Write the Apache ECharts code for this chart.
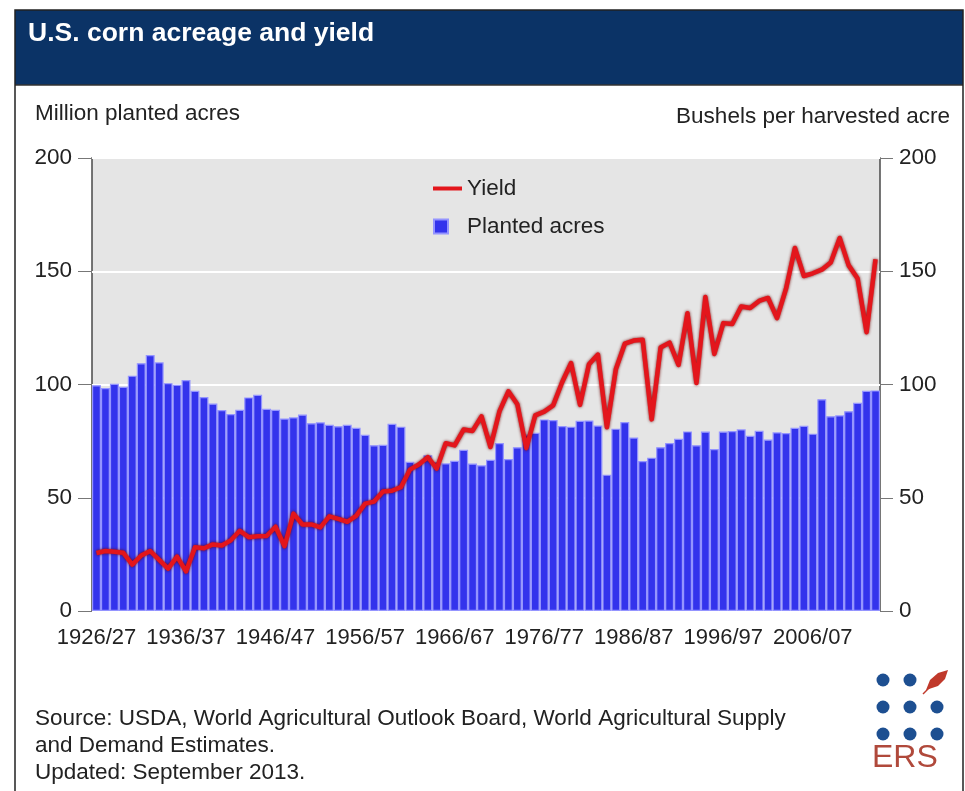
<!DOCTYPE html>
<html>
<head>
<meta charset="utf-8">
<script src="https://cdn.jsdelivr.net/npm/echarts@6/dist/echarts.min.js"></script>
<style>
  html, body { margin: 0; padding: 0; background: #fff; }
  #chart { width: 965px; height: 791px; }
</style>
</head>
<body>
<div id="chart"></div>
<script>
  // crop years 1926/27 .. 2013/14
  var firstYear = 1926;
  var lastYear = 2013;
  var seasons = [];
  for (var y = firstYear; y <= lastYear; y++) {
      seasons.push(y + '/' + String((y + 1) % 100).padStart(2, '0'));
  }

  // million planted acres
  var plantedAcres = [
      99.7, 98.4, 100.3, 99.0, 103.9, 109.4, 113.0, 109.8, 100.6, 99.9,
      102.0, 97.2, 94.5, 91.6, 88.7, 87.0, 88.8, 94.3, 95.5, 89.3,
      88.8, 85.0, 85.5, 86.7, 82.9, 83.3, 82.2, 81.6, 82.2, 80.9,
      77.8, 73.2, 73.4, 82.7, 81.4, 65.9, 65.0, 68.8, 65.8, 65.2,
      66.3, 71.2, 65.1, 64.3, 66.8, 74.2, 67.1, 72.3, 77.9, 78.7,
      84.6, 84.3, 81.7, 81.4, 84.0, 84.1, 81.9, 60.2, 80.5, 83.4,
      76.6, 66.2, 67.7, 72.3, 74.2, 76.0, 79.3, 73.2, 79.2, 71.5,
      79.2, 79.5, 80.2, 77.4, 79.6, 75.7, 78.9, 78.6, 80.9, 81.8,
      78.3, 93.5, 86.0, 86.4, 88.2, 91.9, 97.2, 97.4
  ];

  // bushels per harvested acre
  var yieldPerAcre = [
      25.6, 26.5, 26.2, 25.7, 20.5, 24.5, 26.5, 22.6, 18.7, 24.0,
      17.5, 28.1, 27.7, 29.4, 28.9, 31.2, 35.4, 32.6, 33.0, 33.1,
      37.2, 28.6, 43.0, 38.2, 38.2, 36.9, 41.8, 40.7, 39.4, 42.0,
      47.4, 48.3, 52.8, 53.1, 54.7, 62.4, 64.7, 67.9, 62.9, 74.1,
      73.1, 80.1, 79.5, 85.9, 72.4, 88.1, 97.0, 91.3, 71.9, 86.4,
      88.0, 90.8, 101.0, 109.5, 91.0, 108.9, 113.2, 81.1, 106.7, 118.0,
      119.4, 119.8, 84.6, 116.3, 118.5, 108.6, 131.5, 100.7, 138.6, 113.5,
      127.1, 126.7, 134.4, 133.8, 136.9, 138.2, 129.3, 142.2, 160.3, 147.9,
      149.1, 150.7, 153.9, 164.7, 152.6, 146.8, 123.1, 155.3
  ];

  var FONT = '"Liberation Sans", Arial, sans-serif';
  var NAVY = '#0b3366';
  var TXT = 22.5;

  var chart = echarts.init(document.getElementById('chart'));

  var option = {
      backgroundColor: '#fff',
      animation: false,
      textStyle: { fontFamily: FONT },
      title: {
          text: 'U.S. corn acreage and yield',
          left: 23,
          top: 15,
          textStyle: { color: '#fff', fontSize: 26.5, fontWeight: 'bold', fontFamily: FONT }
      },
      legend: {
          orient: 'vertical',
          left: 433,
          top: 177,
          padding: 0,
          itemWidth: 29,
          itemHeight: 14,
          itemGap: 15,
          textStyle: { fontSize: TXT, color: '#222', fontFamily: FONT },
          data: [
              { name: 'Yield', icon: 'path://M0,0 M29,14 M0,5 L29,5 L29,9 L0,9 Z' },
              { name: 'Planted acres', icon: 'path://M29,0 M2,0 L16,0 L16,14 L2,14 Z' }
          ]
      },
      grid: {
          left: 92,
          right: 85,
          top: 158,
          bottom: 180,
          show: true,
          backgroundColor: '#e5e5e5',
          borderColor: '#4a4a4a',
          borderWidth: 1.5
      },
      xAxis: {
          type: 'category',
          data: seasons,
          axisLine: { show: false },
          axisTick: {
              alignWithLabel: true,
              interval: 9,
              length: 10,
              lineStyle: { color: '#777' }
          },
          axisLabel: {
              interval: 9,
              fontSize: 22,
              color: '#222',
              margin: 16
          }
      },
      yAxis: [
          {
              type: 'value',
              min: 0,
              max: 200,
              interval: 50,
              axisLine: { show: false },
              axisTick: { show: true, length: 14, lineStyle: { color: '#777' } },
              axisLabel: { fontSize: TXT, color: '#222', margin: 20 },
              splitLine: { lineStyle: { color: '#fff', width: 2 } }
          },
          {
              type: 'value',
              position: 'right',
              min: 0,
              max: 200,
              interval: 50,
              axisLine: { show: false },
              axisTick: { show: true, length: 13, lineStyle: { color: '#777' } },
              axisLabel: { fontSize: TXT, color: '#222', margin: 19 },
              splitLine: { show: false }
          }
      ],
      series: [
          {
              name: 'Planted acres',
              type: 'bar',
              data: plantedAcres,
              barCategoryGap: '0%',
              itemStyle: {
                  color: '#3333ec',
                  borderColor: '#9494ff',
                  borderWidth: 1.2
              }
          },
          {
              name: 'Yield',
              type: 'line',
              yAxisIndex: 1,
              data: yieldPerAcre,
              showSymbol: false,
              z: 5,
              lineStyle: {
                  color: '#e3161c',
                  width: 4.5,
                  join: 'round',
                  shadowColor: 'rgba(110,0,0,0.9)',
                  shadowBlur: 3
              },
              itemStyle: { color: '#e3161c' }
          }
      ],
      graphic: [
          // title band and frame
          { type: 'rect', z: -10, shape: { x: 15, y: 10, width: 948, height: 75 }, style: { fill: NAVY } },
          { type: 'line', z: -9, shape: { x1: 15, y1: 85, x2: 963, y2: 85 }, style: { stroke: '#333', lineWidth: 1.5 } },
          { type: 'rect', z: -9, shape: { x: 15, y: 10, width: 948, height: 800 }, style: { fill: null, stroke: '#222', lineWidth: 1.5 } },
          // axis titles
          { type: 'text', left: 35, top: 102, style: { text: 'Million planted acres', font: TXT + 'px ' + FONT, fill: '#222' } },
          { type: 'text', right: 15, top: 105, style: { text: 'Bushels per harvested acre', font: TXT + 'px ' + FONT, fill: '#222' } },
          // source note
          {
              type: 'text', left: 35, top: 705,
              style: {
                  text: 'Source: USDA, World Agricultural Outlook Board, World Agricultural Supply\nand Demand Estimates.\nUpdated: September 2013.',
                  font: TXT + 'px ' + FONT,
                  lineHeight: 27,
                  fill: '#222'
              }
          },
          // ERS logo
          { type: 'circle', shape: { cx: 883, cy: 680, r: 6.5 }, style: { fill: '#1d4f91' } },
          { type: 'circle', shape: { cx: 910, cy: 680, r: 6.5 }, style: { fill: '#1d4f91' } },
          { type: 'circle', shape: { cx: 883, cy: 707, r: 6.5 }, style: { fill: '#1d4f91' } },
          { type: 'circle', shape: { cx: 910, cy: 707, r: 6.5 }, style: { fill: '#1d4f91' } },
          { type: 'circle', shape: { cx: 937, cy: 707, r: 6.5 }, style: { fill: '#1d4f91' } },
          { type: 'circle', shape: { cx: 883, cy: 734, r: 6.5 }, style: { fill: '#1d4f91' } },
          { type: 'circle', shape: { cx: 910, cy: 734, r: 6.5 }, style: { fill: '#1d4f91' } },
          { type: 'circle', shape: { cx: 937, cy: 734, r: 6.5 }, style: { fill: '#1d4f91' } },
          {
              type: 'polygon',
              shape: { points: [[926, 690], [930, 680], [938, 673], [948, 670], [945, 679], [938, 686], [929, 689]] },
              style: { fill: '#c0392b' }
          },
          { type: 'line', shape: { x1: 923, y1: 694, x2: 930, y2: 687 }, style: { stroke: '#c0392b', lineWidth: 1.5 } },
          { type: 'text', left: 872, top: 742, style: { text: 'ERS', font: '32px ' + FONT, fill: '#b0493b' } }
      ]
  };

  chart.setOption(option);
</script>
</body>
</html>
